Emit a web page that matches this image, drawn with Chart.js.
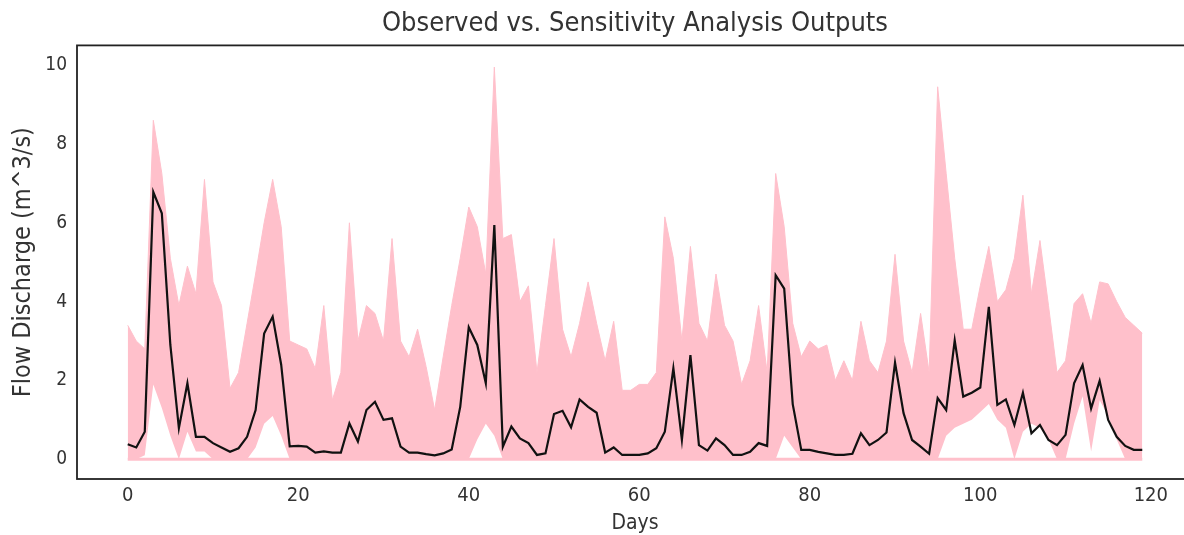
<!DOCTYPE html>
<html>
<head>
<meta charset="utf-8">
<script src="https://cdn.jsdelivr.net/npm/chart.js@4.4.1/dist/chart.umd.min.js"></script>
<style>
  html, body { margin: 0; padding: 0; background: #fff; overflow: hidden; }
  #wrap { width: 1200px; height: 535px; }
</style>
</head>
<body>
<div id="wrap"><canvas id="flowChart"></canvas></div>
<script>
// observed discharge per day (m^3/s)
const observed = [
  0.38, 0.30, 0.70, 6.78, 6.24, 2.90, 0.79, 1.93, 0.57, 0.57,
  0.41, 0.30, 0.19, 0.28, 0.57, 1.25, 3.19, 3.62, 2.40, 0.33,
  0.34, 0.32, 0.17, 0.20, 0.17, 0.17, 0.91, 0.45, 1.25, 1.46,
  1.00, 1.04, 0.32, 0.17, 0.17, 0.13, 0.10, 0.15, 0.25, 1.33,
  3.35, 2.90, 1.93, 5.94, 0.32, 0.83, 0.53, 0.41, 0.11, 0.15,
  1.15, 1.23, 0.81, 1.52, 1.33, 1.18, 0.17, 0.30, 0.11, 0.11,
  0.11, 0.15, 0.28, 0.70, 2.31, 0.49, 2.64, 0.36, 0.22, 0.53,
  0.36, 0.11, 0.11, 0.19, 0.41, 0.34, 4.67, 4.33, 1.40, 0.24,
  0.24, 0.19, 0.15, 0.11, 0.11, 0.14, 0.66, 0.36, 0.49, 0.68,
  2.45, 1.17, 0.49, 0.32, 0.14, 1.55, 1.25, 3.02, 1.59, 1.69,
  1.82, 3.87, 1.38, 1.52, 0.87, 1.69, 0.66, 0.87, 0.49, 0.36,
  0.62, 1.93, 2.39, 1.29, 1.99, 1.00, 0.57, 0.34, 0.24, 0.24
];

// envelope of the sensitivity runs
const runsMax = [
  3.40, 3.00, 2.80, 8.60, 7.25, 5.10, 3.90, 4.90, 4.20, 7.10,
  4.50, 3.90, 1.80, 2.20, 3.45, 4.70, 6.00, 7.10, 5.90, 3.00,
  2.90, 2.80, 2.30, 3.90, 1.50, 2.20, 6.00, 3.00, 3.90, 3.70,
  3.00, 5.60, 3.00, 2.60, 3.30, 2.35, 1.25, 2.60, 3.90, 5.10,
  6.40, 5.90, 4.70, 9.95, 5.60, 5.70, 4.00, 4.40, 2.20, 3.90,
  5.60, 3.30, 2.60, 3.45, 4.50, 3.45, 2.50, 3.50, 1.75, 1.75,
  1.90, 1.90, 2.20, 6.15, 5.10, 3.00, 5.40, 3.45, 3.00, 4.70,
  3.40, 3.00, 1.90, 2.50, 3.90, 2.20, 7.25, 5.90, 3.45, 2.60,
  3.00, 2.80, 2.90, 2.00, 2.50, 2.00, 3.50, 2.50, 2.20, 3.00,
  5.20, 3.00, 2.20, 3.70, 2.20, 9.45, 7.25, 5.10, 3.30, 3.30,
  4.40, 5.40, 4.00, 4.30, 5.10, 6.70, 4.20, 5.55, 3.90, 2.20,
  2.50, 3.95, 4.20, 3.45, 4.50, 4.45, 4.00, 3.60, 3.40, 3.20
];

const runsMin = [
  0, 0, 0.10, 1.90, 1.30, 0.60, 0, 0.70, 0.20, 0.20,
  0, 0, 0, 0, 0, 0.30, 0.90, 1.10, 0.60, 0,
  0, 0, 0, 0, 0, 0, 0, 0, 0, 0,
  0, 0, 0, 0, 0, 0, 0, 0, 0, 0,
  0, 0.50, 0.90, 0.60, 0, 0, 0, 0, 0, 0,
  0, 0, 0, 0, 0, 0, 0, 0, 0, 0,
  0, 0, 0, 0, 0, 0, 0, 0, 0, 0,
  0, 0, 0, 0, 0, 0, 0, 0.60, 0.30, 0,
  0, 0, 0, 0, 0, 0, 0, 0, 0, 0,
  0, 0, 0, 0, 0, 0, 0.60, 0.80, 0.90, 1.00,
  1.20, 1.40, 1.00, 0.80, 0, 0.70, 0.90, 0.80, 0.50, 0,
  0, 0.90, 1.60, 0.20, 1.50, 1.10, 0.50, 0, 0, 0
];

// one run that stays flat at zero the whole time
const zeroRunDays = [0, 119];
const zeroRunValues = [0, 0];

const xTicks = [0, 20, 40, 60, 80, 100, 120];
const yTicks = [0, 2, 4, 6, 8, 10];

const days = observed.map((v, i) => i);
const toPoints = (xs, ys) => xs.map((x, i) => ({x: x, y: ys[i]}));

const PINK = '#ffc0cb';
const TEXT = '#333333';
const FONT = '"DejaVu Sans Condensed", "DejaVu Sans", sans-serif';

// draws the box round the plot area
const frame = {
  id: 'frame',
  afterDraw(chart) {
    const {ctx, chartArea: a} = chart;
    ctx.save();
    ctx.strokeStyle = '#222';
    ctx.lineWidth = 1.8;
    ctx.strokeRect(a.left, a.top, a.right - a.left, a.bottom - a.top);
    ctx.restore();
  }
};

new Chart(document.getElementById('flowChart'), {
  type: 'line',
  data: {
    datasets: [
      {
        label: 'runs min',
        data: toPoints(days, runsMin),
        borderWidth: 0,
        pointRadius: 0,
        fill: false,
        order: 3
      },
      {
        label: 'runs max',
        data: toPoints(days, runsMax),
        borderColor: PINK,
        borderWidth: 1,
        backgroundColor: PINK,
        pointRadius: 0,
        fill: '-1',
        order: 2
      },
      {
        label: 'zero run',
        data: toPoints(zeroRunDays, zeroRunValues),
        borderColor: PINK,
        borderWidth: 3,
        pointRadius: 0,
        fill: false,
        order: 1
      },
      {
        label: 'Observed',
        data: toPoints(days, observed),
        borderColor: '#111',
        borderWidth: 2.2,
        pointRadius: 0,
        fill: false,
        order: 0
      }
    ]
  },
  options: {
    responsive: true,
    maintainAspectRatio: false,
    animation: false,
    layout: { padding: { left: 0, right: 7, top: 0, bottom: 0 } },
    plugins: {
      legend: { display: false },
      tooltip: { enabled: false },
      title: {
        display: true,
        fullSize: false,
        text: 'Observed vs. Sensitivity Analysis Outputs',
        color: TEXT,
        font: { family: FONT, size: 27, weight: 'normal' },
        padding: { top: 8, bottom: 5 }
      }
    },
    scales: {
      x: {
        type: 'linear',
        min: -5.95,
        max: 124.95,
        afterBuildTicks: (axis) => { axis.ticks = xTicks.map(v => ({value: v})); },
        afterFit: (axis) => { axis.height = 56; },
        grid: { display: false, drawTicks: false },
        border: { display: false },
        ticks: { color: TEXT, font: { family: FONT, size: 20 }, padding: 5, maxRotation: 0 },
        title: { display: true, text: 'Days', color: TEXT, font: { family: FONT, size: 21, lineHeight: 1.1 }, padding: { top: 0, bottom: 0 } }
      },
      y: {
        min: -0.5,
        max: 10.5,
        afterBuildTicks: (axis) => { axis.ticks = yTicks.map(v => ({value: v})); },
        afterFit: (axis) => { axis.width = 77; },
        grid: { display: false, drawTicks: false },
        border: { display: false },
        ticks: { color: TEXT, font: { family: FONT, size: 19 }, padding: 10 },
        title: { display: true, text: 'Flow Discharge (m^3/s)', color: TEXT, font: { family: FONT, size: 25 }, padding: { top: 8, bottom: 0 } }
      }
    }
  },
  plugins: [frame]
});
</script>
</body>
</html>
